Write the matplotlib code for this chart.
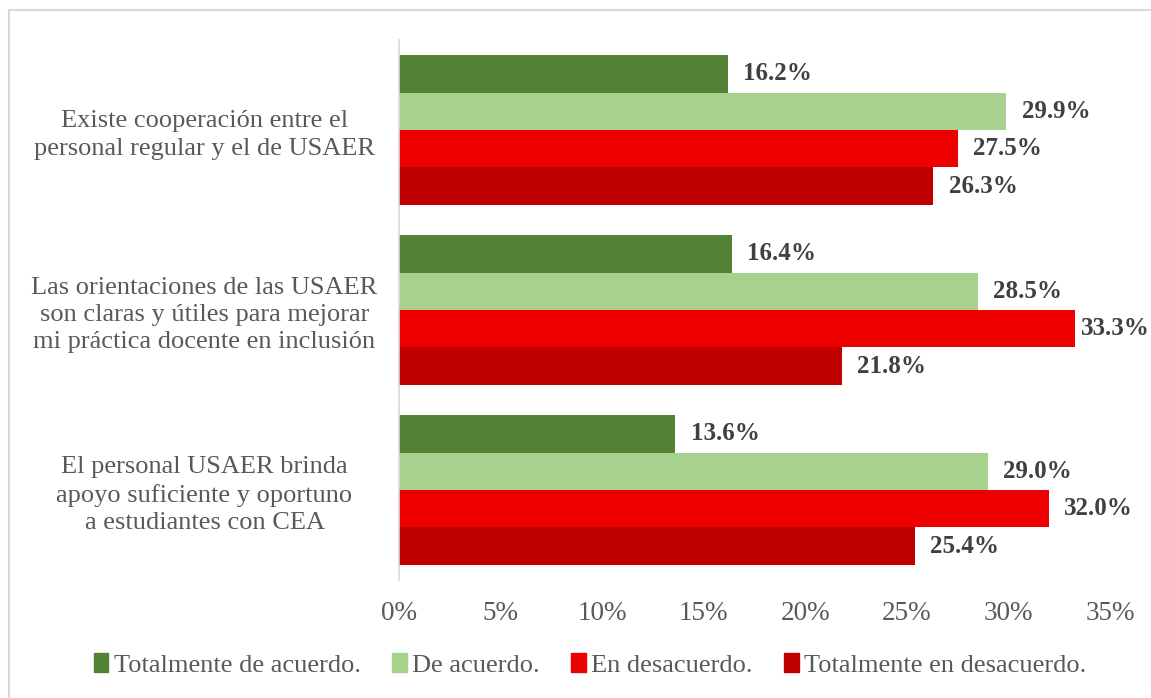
import numpy as np
import matplotlib.pyplot as plt
from matplotlib.lines import Line2D

plt.rcParams['font.family'] = ['Liberation Serif', 'DejaVu Serif']

categories = [
    'Existe cooperación entre el\npersonal regular y el de USAER',
    'Las orientaciones de las USAER\nson claras y útiles para mejorar\nmi práctica docente en inclusión',
    'El personal USAER brinda\napoyo suficiente y oportuno\na estudiantes con CEA',
]
series = ['Totalmente de acuerdo.', 'De acuerdo.', 'En desacuerdo.', 'Totalmente en desacuerdo.']
values = [
    [16.2, 16.4, 13.6],
    [29.9, 28.5, 29.0],
    [27.5, 33.3, 32.0],
    [26.3, 21.8, 25.4],
]
colors = ['#548235', '#A9D18E', '#EE0000', '#C00000']
ticks = [0, 5, 10, 15, 20, 25, 30, 35]

fig = plt.figure(figsize=(11.51, 6.98), dpi=100)
ax = fig.add_axes([399 / 1151, 1 - 580 / 698, 711 / 1151, 540 / 698])

n = len(series)
bar_h = 0.8333 / n
y = np.arange(len(categories))  # 0 at top after inversion
for i, (name, vals) in enumerate(zip(series, values)):
    pos = y - 0.8333 / 2 + bar_h * (i + 0.5)
    ax.barh(pos, vals, height=bar_h, color=colors[i], label=name)
    for p, v in zip(pos, vals):
        # labels that would run past the chart edge get pulled in, like Excel does
        ax.text(min(v + 0.75, 33.55), p, f'{v:.1f}%', va='center', ha='left',
                fontsize=18, fontweight='bold', color='#404040')

ax.set_ylim(len(categories) - 0.5, -0.5)
ax.set_xlim(0, 35)
ax.set_xticks(ticks)
ax.set_xticklabels([f'{t}%' for t in ticks], fontsize=19.5, color='#595959')
ax.set_yticks(y)
ax.set_yticklabels(categories, fontsize=19, color='#595959', ha='center', linespacing=1.3)
ax.tick_params(axis='y', length=0, pad=140)
ax.tick_params(axis='x', length=0, pad=15)
for s in ['top', 'right', 'bottom']:
    ax.spines[s].set_visible(False)
ax.spines['left'].set_color('#D9D9D9')
ax.spines['left'].set_linewidth(1.2)

handles = [plt.Rectangle((0, 0), 1, 1, color=c) for c in colors]
fig.legend(handles, series, loc='center', bbox_to_anchor=(590 / 1151, 1 - 665 / 698),
           ncol=4, frameon=False, fontsize=19, handlelength=0.55, handleheight=0.75,
           handletextpad=0.2, columnspacing=1.2, labelcolor='#595959')

# chart border
fig.add_artist(Line2D([8.5 / 1151, 8.5 / 1151], [0, 1 - 10 / 698], color='#D9D9D9', lw=1.5))
fig.add_artist(Line2D([8.5 / 1151, 1], [1 - 10 / 698, 1 - 10 / 698], color='#D9D9D9', lw=1.5))

fig.savefig('out.png', dpi=100)
